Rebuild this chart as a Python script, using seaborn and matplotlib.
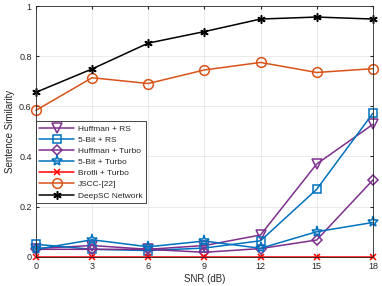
import seaborn as sns
import pandas as pd
import matplotlib.pyplot as plt

# SNR values (dB)
snr = [0, 3, 6, 9, 12, 15, 18]

# sentence similarity per method
huffman_rs = [0.033, 0.045, 0.030, 0.045, 0.087, 0.370, 0.528]
fivebit_rs = [0.050, 0.030, 0.025, 0.035, 0.064, 0.269, 0.572]
huffman_turbo = [0.030, 0.030, 0.030, 0.018, 0.033, 0.067, 0.306]
fivebit_turbo = [0.030, 0.068, 0.040, 0.063, 0.034, 0.100, 0.137]
brotli_turbo = [0, 0, 0, 0, 0, 0, 0]
jscc = [0.584, 0.714, 0.691, 0.745, 0.775, 0.735, 0.750]
deepsc = [0.656, 0.749, 0.852, 0.898, 0.948, 0.956, 0.948]

names = ['Huffman + RS', '5-Bit + RS', 'Huffman + Turbo', '5-Bit + Turbo',
         'Brotli + Turbo', 'JSCC-[22]', 'DeepSC Network']
series = [huffman_rs, fivebit_rs, huffman_turbo, fivebit_turbo, brotli_turbo, jscc, deepsc]
colors = ['#7E2F8E', '#0072BD', '#7E2F8E', '#0072BD', '#FF0000', '#D95319', '#000000']
markers = ['v', 's', 'D', '*', 'x', 'o', (6, 2, 0)]
msizes = [6.5, 6, 5.5, 8, 5, 7, 6]

sns.set_style('whitegrid')
plt.rcParams['font.family'] = ['Liberation Sans', 'DejaVu Sans']

fig = plt.figure(figsize=(3.82, 2.86), dpi=100)
ax = fig.add_axes([0.094, 0.102, 0.882, 0.877])

for name, vals, c, m, ms in zip(names, series, colors, markers, msizes):
    df = pd.DataFrame({'SNR': snr, 'sim': vals})
    sns.lineplot(data=df, x='SNR', y='sim', ax=ax, color=c, marker=m,
                 markersize=ms, markerfacecolor='none', markeredgecolor=c,
                 markeredgewidth=1.1, linewidth=1.1, label=name, clip_on=False)

ax.set_xlim(0, 18)
ax.set_ylim(0, 1)
ax.set_xticks(snr)
ax.set_yticks([0, 0.2, 0.4, 0.6, 0.8, 1])
ax.set_yticklabels(['0', '0.2', '0.4', '0.6', '0.8', '1'])
ax.set_xlabel('SNR (dB)', fontsize=7, labelpad=2)
ax.set_ylabel('Sentence Similarity', fontsize=7, labelpad=3)
ax.tick_params(labelsize=6.5, direction='in', length=2.5, color='#262626')
ax.tick_params(axis='x', pad=4)
ax.tick_params(axis='y', pad=3)
ax.tick_params(axis='both', which='both', bottom=True, left=True, top=True, right=True,
               labelbottom=True, labelleft=True)
ax.grid(True, color='#e6e6e6', linewidth=0.6)
for s in ax.spines.values():
    s.set_visible(True)
    s.set_color('#262626')
    s.set_linewidth(0.6)

leg = ax.legend(loc='upper left', bbox_to_anchor=(0.0, 0.54), fontsize=6.0,
                frameon=True, fancybox=False, borderaxespad=0, handlelength=4.2,
                labelspacing=0.4, borderpad=0.4, handletextpad=0.4)
leg.get_frame().set_edgecolor('#262626')
leg.get_frame().set_linewidth(0.6)
leg.get_frame().set_alpha(1)

fig.savefig('out.png', dpi=100)
